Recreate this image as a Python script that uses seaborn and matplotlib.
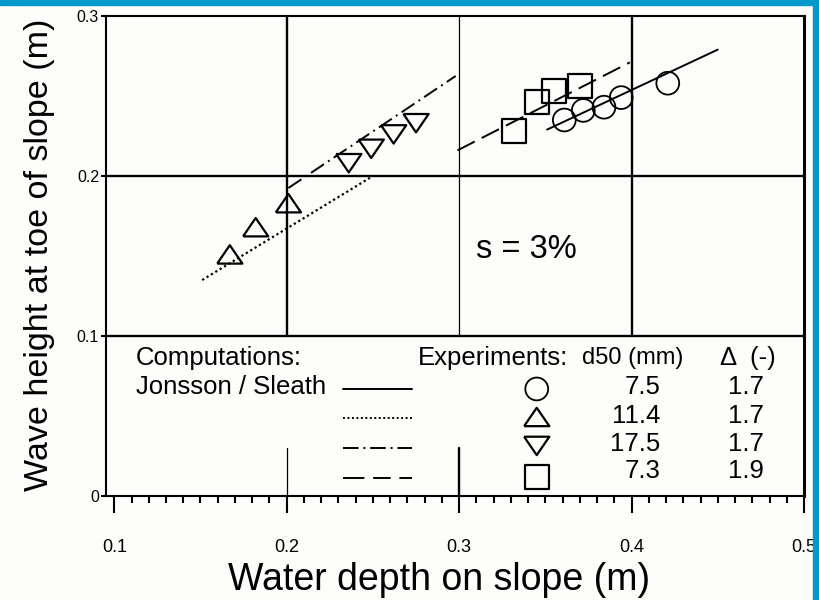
import matplotlib
matplotlib.use("Agg")
import matplotlib.pyplot as plt
from matplotlib.patches import Rectangle
from matplotlib.ticker import MultipleLocator, FixedLocator, FixedFormatter
import seaborn as sns

# Measured wave height at the toe of the slope vs water depth on the slope
circle_depth = [0.361, 0.372, 0.384, 0.394, 0.421]
circle_height = [0.235, 0.241, 0.243, 0.249, 0.258]
tri_up_depth = [0.167, 0.182, 0.201]
tri_up_height = [0.151, 0.168, 0.183]
tri_down_depth = [0.236, 0.249, 0.262, 0.275]
tri_down_height = [0.208, 0.217, 0.226, 0.233]
square_depth = [0.332, 0.345, 0.355, 0.370]
square_height = [0.228, 0.246, 0.253, 0.256]

# Computed lines (Jonsson / Sleath), one per experiment series
solid_depth = [0.351, 0.450]
solid_height = [0.229, 0.279]
dotted_depth = [0.151, 0.250]
dotted_height = [0.135, 0.200]
dashdot_depth = [0.201, 0.298]
dashdot_height = [0.1925, 0.2625]
dashed_depth = [0.299, 0.399]
dashed_height = [0.216, 0.271]

# Key table
d50_mm = ["7.5", "11.4", "17.5", "7.3"]
delta_values = ["1.7", "1.7", "1.7", "1.9"]

x_ticks = [0.1, 0.2, 0.3, 0.4, 0.5]
x_tick_labels = ["0.1", "0.2", "0.3", "0.4", "0.5"]
y_ticks = [0.0, 0.1, 0.2, 0.3]
y_tick_labels = ["0", "0.1", "0.2", "0.3"]

sns.set_style("white")
plt.rcParams["font.family"] = ["Liberation Sans", "DejaVu Sans"]
for key in ["text.color", "axes.labelcolor", "xtick.color", "ytick.color"]:
    plt.rcParams[key] = "black"

BG = "#fdfdfb"
fig = plt.figure(figsize=(8.19, 6.0), dpi=100, facecolor=BG)
ax = fig.add_axes([106 / 819, 1 - 496 / 600, 698 / 819, 480 / 600])
ax.set_facecolor(BG)
ax.set_xlim(0.0952, 0.5)
ax.set_ylim(0, 0.3)

# reference grid
thick, thin = 1.7, 0.9
for gx, lw in [(0.2, thick), (0.3, thin), (0.4, thick)]:
    ax.axvline(gx, ymin=1 / 3, ymax=1, color="black", lw=lw, zorder=1)
ax.axhline(0.2, color="black", lw=thick, zorder=1)
ax.axhline(0.1, color="black", lw=thick, zorder=1)
ax.axvline(0.2, ymin=0, ymax=0.1, color="black", lw=thin, zorder=1)
ax.axvline(0.3, ymin=0, ymax=0.1, color="black", lw=thick, zorder=1)

# computed lines
line_lw = 1.4
sns.lineplot(x=solid_depth, y=solid_height, ax=ax, color="black", lw=line_lw, sort=False)
sns.lineplot(x=dotted_depth, y=dotted_height, ax=ax, color="black", lw=1.6,
             linestyle=(0, (1, 1.3)), sort=False)
sns.lineplot(x=dashdot_depth, y=dashdot_height, ax=ax, color="black", lw=line_lw,
             linestyle=(0, (8, 2.5, 1, 2.5)), sort=False)
sns.lineplot(x=dashed_depth, y=dashed_height, ax=ax, color="black", lw=line_lw,
             linestyle=(0, (10, 4)), sort=False)

# open markers
tri_up = [(-1, -0.73), (1, -0.73), (0, 0.73), (-1, -0.73)]
tri_down = [(-1, 0.73), (1, 0.73), (0, -0.73), (-1, 0.73)]
mk = dict(ax=ax, facecolor="none", edgecolor="black", zorder=3)
sns.scatterplot(x=circle_depth, y=circle_height, marker="o", s=270, linewidth=1.3, **mk)
sns.scatterplot(x=tri_up_depth, y=tri_up_height, marker=tri_up, s=330, linewidth=1.6, **mk)
sns.scatterplot(x=tri_down_depth, y=tri_down_height, marker=tri_down, s=330, linewidth=1.6, **mk)
sns.scatterplot(x=square_depth, y=square_height, marker="s", s=300, linewidth=1.6, **mk)

ax.text(0.31, 0.154, "s = 3%", fontsize=23.5, ha="left", va="center")

# key drawn inside the lower panel
fs = 18.5
ax.text(0.1126, 0.0863, "Computations:", fontsize=fs, ha="left", va="center")
ax.text(0.1126, 0.0680, "Jonsson / Sleath", fontsize=fs, ha="left", va="center")
ax.text(0.276, 0.0863, "Experiments:", fontsize=fs, ha="left", va="center")
ax.text(0.3713, 0.0863, "d50 (mm)", fontsize=17, ha="left", va="center")
ax.text(0.4513, 0.0863, "Δ  (-)", fontsize=fs, ha="left", va="center")

row_y = [0.0669, 0.0488, 0.0300, 0.0110]
text_y = [0.0680, 0.0500, 0.0325, 0.0155]
styles = ["-", (0, (1, 1.3)), (0, (8, 2.5, 1, 2.5)), (0, (11, 4.5, 9, 4.5))]
for yy, ls in zip(row_y, styles):
    ax.plot([0.2326, 0.2727], [yy, yy], color="black", lw=line_lw, linestyle=ls)

key_markers = [("o", 270, 1.3), (tri_up, 330, 1.6), (tri_down, 330, 1.6), ("s", 300, 1.6)]
key_marker_y = [0.0669, 0.0494, 0.0313, 0.0119]
for (m, s, lw), yy in zip(key_markers, key_marker_y):
    ax.scatter([0.345], [yy], marker=m, s=s, facecolor="none", edgecolor="black",
               linewidth=lw, zorder=3)

for d, dv, yy in zip(d50_mm, delta_values, text_y):
    ax.text(0.4166, yy, d, fontsize=fs, ha="right", va="center")
    ax.text(0.456, yy, dv, fontsize=fs, ha="left", va="center")

# axes, ticks and labels
for sp in ax.spines.values():
    sp.set_color("black")
    sp.set_linewidth(1.5)
ax.spines["right"].set_linewidth(2.2)

ax.xaxis.set_major_locator(FixedLocator(x_ticks))
ax.xaxis.set_major_formatter(FixedFormatter(x_tick_labels))
ax.xaxis.set_minor_locator(MultipleLocator(0.01))
ax.yaxis.set_major_locator(FixedLocator(y_ticks))
ax.yaxis.set_major_formatter(FixedFormatter(y_tick_labels))
ax.tick_params(axis="x", which="major", direction="out", length=12, width=1.5,
               pad=19, labelsize=13, bottom=True)
ax.tick_params(axis="x", which="minor", direction="out", length=5, width=1.5, bottom=True)
ax.tick_params(axis="y", which="major", direction="out", length=3.5, width=1.5,
               pad=1.5, labelsize=11.5, left=True)

ax.set_xlabel("Water depth on slope (m)", fontsize=27)
ax.set_ylabel("Wave height at toe of slope (m)", fontsize=24.5)
ax.xaxis.set_label_coords(0.477, -0.175)
ax.xaxis.label.set_va("center")
ax.yaxis.set_label_coords(-0.0946, 0.502)
ax.yaxis.label.set_va("center")

# frame band
fig.add_artist(Rectangle((0, 1 - 5 / 600), 1, 5 / 600, transform=fig.transFigure,
                         color="#0099cc", zorder=10))
fig.add_artist(Rectangle((813 / 819, 0), 6 / 819, 1, transform=fig.transFigure,
                         color="#0099cc", zorder=10))

fig.savefig("out.png", dpi=100, facecolor=BG)
